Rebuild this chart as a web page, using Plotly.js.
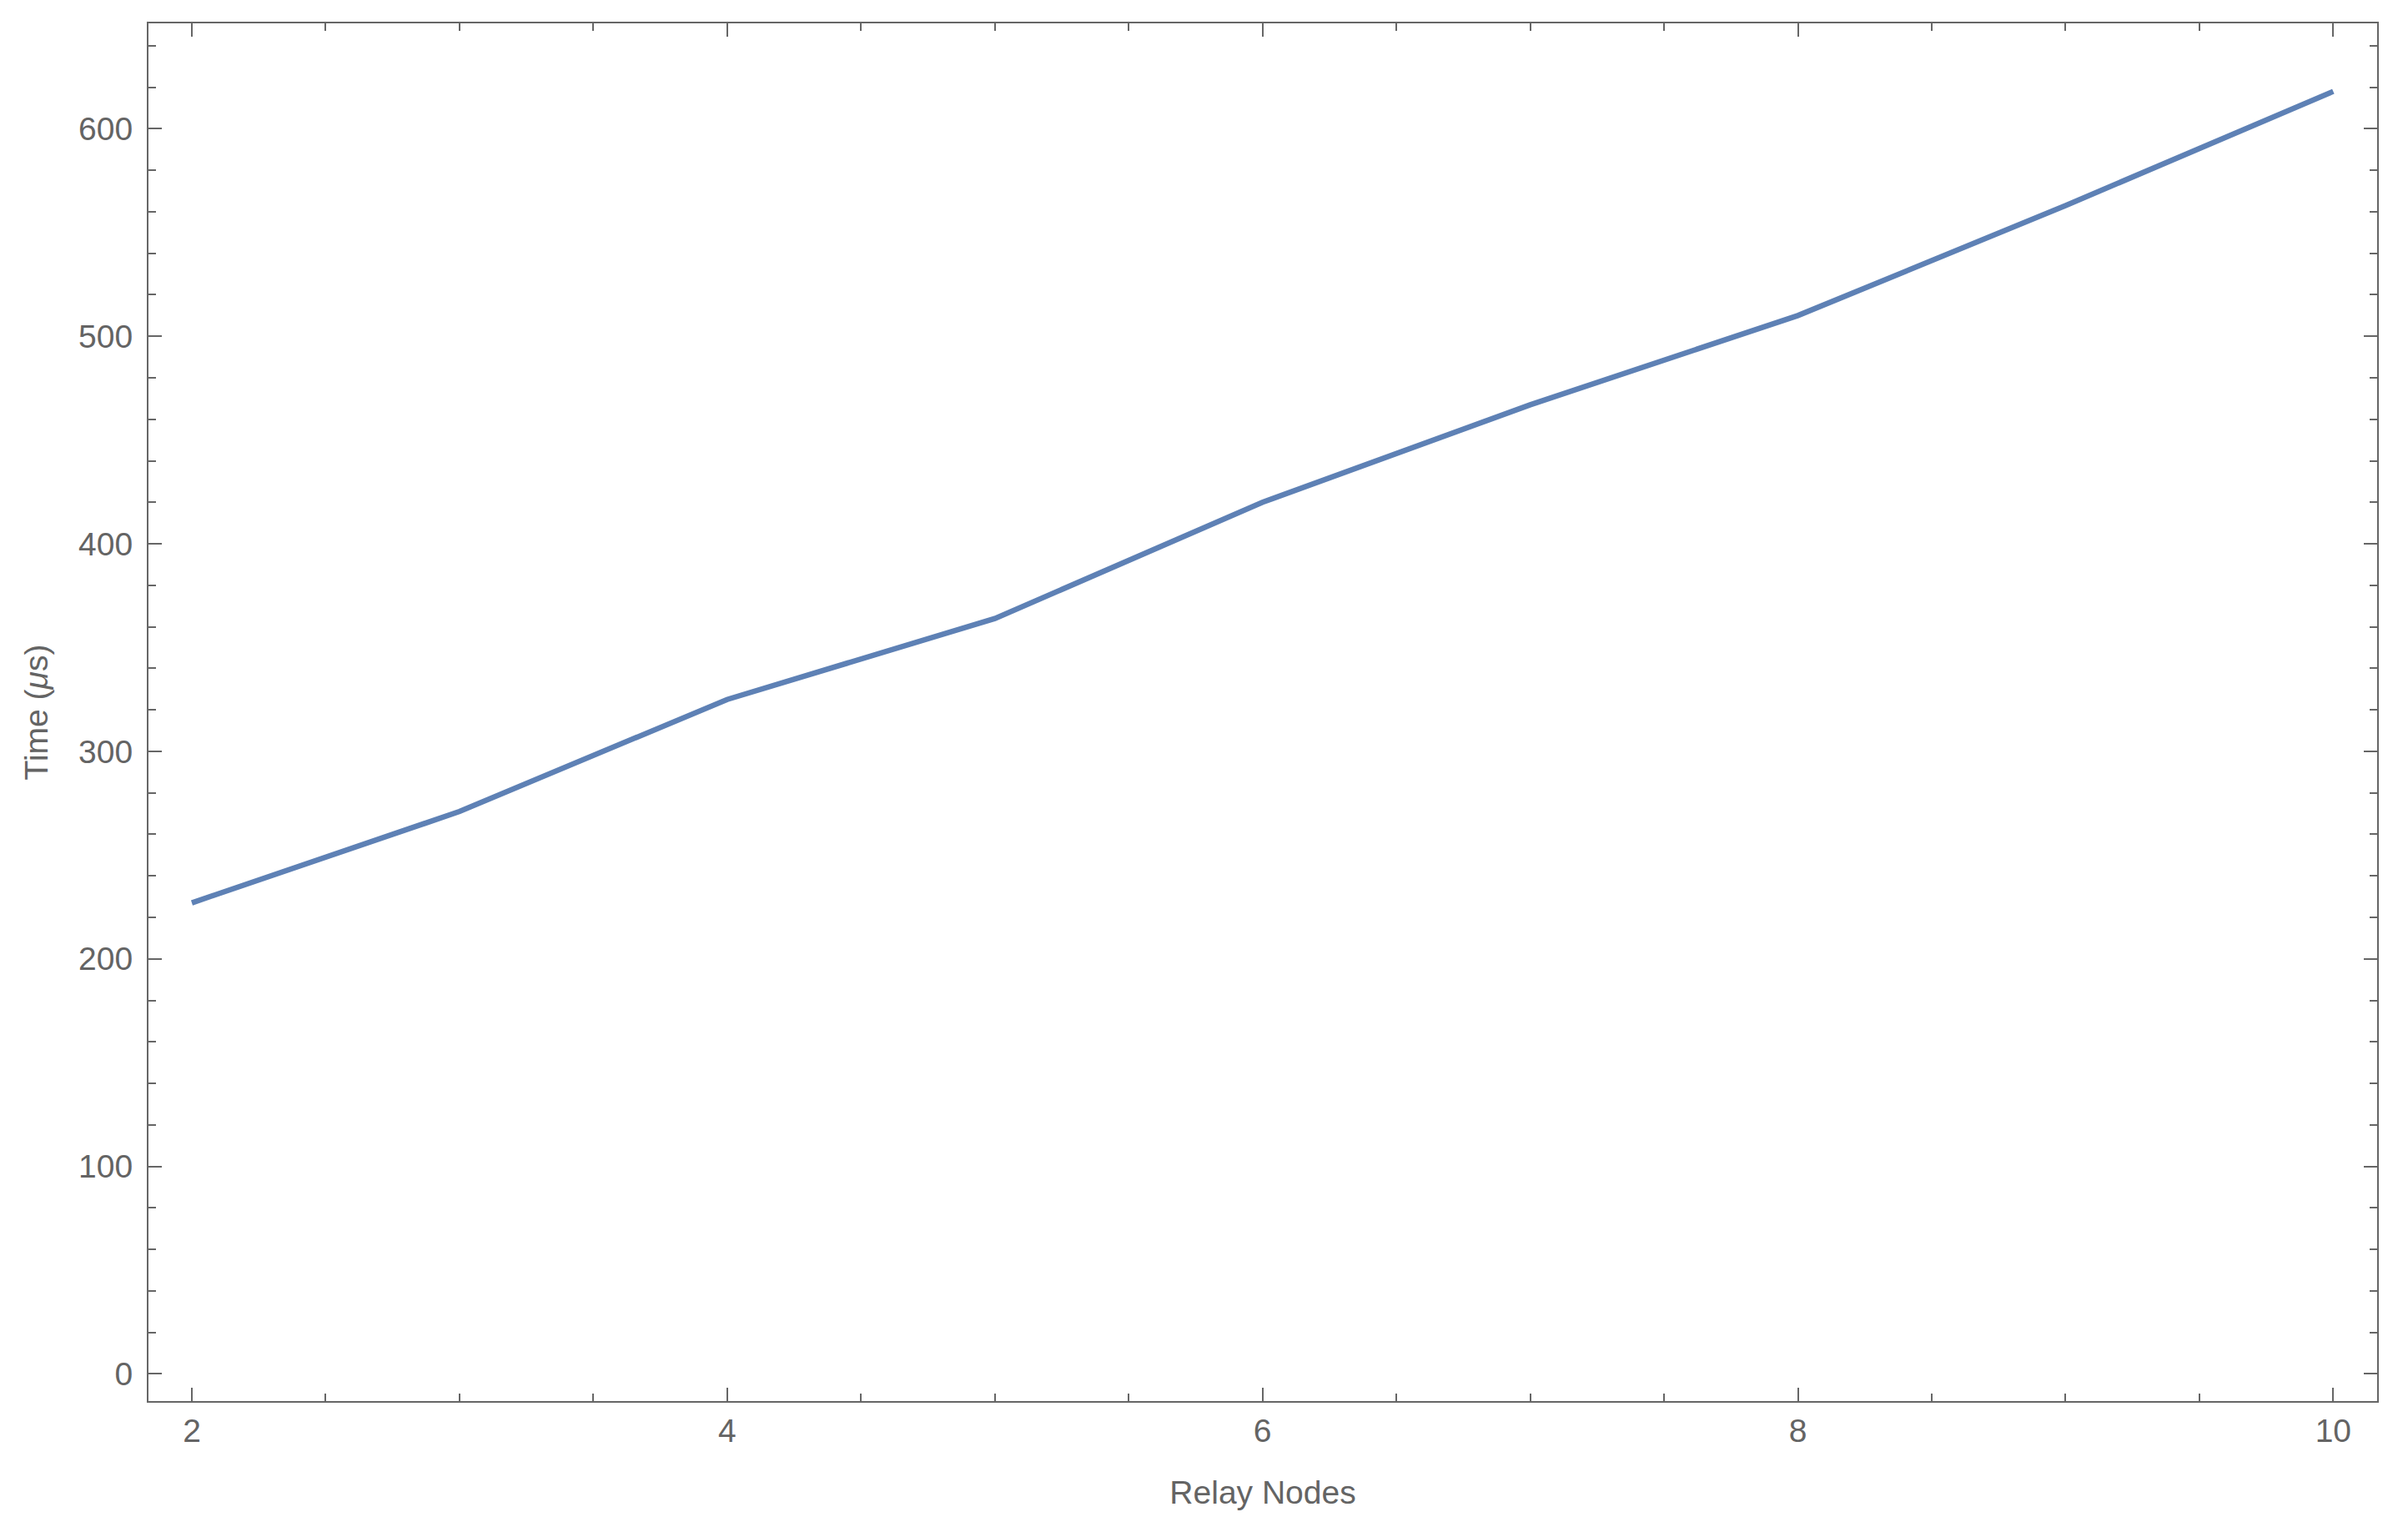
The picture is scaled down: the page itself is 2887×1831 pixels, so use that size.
<!DOCTYPE html>
<html>
<head>
<meta charset="utf-8">
<script src="https://cdn.plot.ly/plotly-3.0.1.min.js"></script>
<style>html,body{margin:0;padding:0;background:#fff;}#chart{width:2887px;height:1831px;}</style>
</head>
<body>
<div id="chart"></div>
<script>
const relayNodes = [2, 3, 4, 5, 6, 7, 8, 9, 10];
const timeUs = [227, 271, 325, 364, 420, 467, 510, 563, 618];
const xTickVals = [2, 4, 6, 8, 10];
const yTickVals = [0, 100, 200, 300, 400, 500, 600];

const axisColor = '#666666';
const fontSpec = {family: 'Liberation Sans, Arial, sans-serif', size: 39, color: '#646464'};

const trace = {
  x: relayNodes,
  y: timeUs,
  type: 'scatter',
  mode: 'lines',
  line: {color: '#5E81B5', width: 6.5},
  hoverinfo: 'skip'
};

const commonAxis = {
  showline: true, linecolor: axisColor, linewidth: 2,
  mirror: 'ticks', ticks: 'inside', ticklen: 16, tickwidth: 2, tickcolor: axisColor,
  showgrid: false, zeroline: false,
  tickfont: fontSpec,
  tickmode: 'array'
};

const layout = {
  width: 2887, height: 1831,
  margin: {l: 178, r: 37, t: 28, b: 151},
  paper_bgcolor: '#ffffff', plot_bgcolor: '#ffffff',
  showlegend: false,
  xaxis: Object.assign({}, commonAxis, {
    range: [1.838, 10.164],
    tickvals: xTickVals,
    ticktext: xTickVals.map(String),
    ticklabelstandoff: 0,
    minor: {dtick: 0.5, tick0: 0, ticks: 'inside', ticklen: 9, tickwidth: 2, tickcolor: axisColor, showgrid: false},
    title: {text: 'Relay Nodes', font: fontSpec, standoff: 40}
  }),
  yaxis: Object.assign({}, commonAxis, {
    range: [-13.1, 650.8],
    tickvals: yTickVals,
    ticktext: yTickVals.map(String),
    ticklabelstandoff: 9,
    minor: {dtick: 20, tick0: 0, ticks: 'inside', ticklen: 9, tickwidth: 2, tickcolor: axisColor, showgrid: false},
    title: {text: 'Time (<i>μ</i>s)', font: fontSpec, standoff: 24}
  })
};

Plotly.newPlot('chart', [trace], layout, {staticPlot: true, displayModeBar: false});
</script>
</body>
</html>
